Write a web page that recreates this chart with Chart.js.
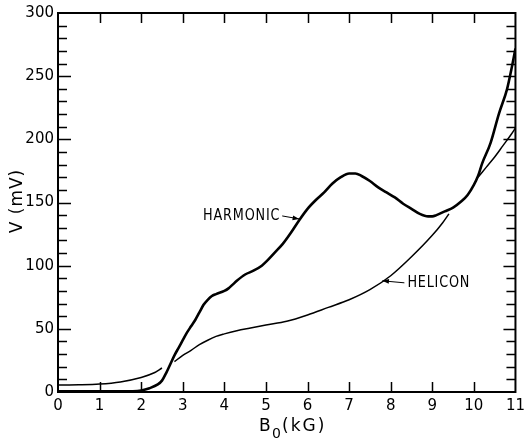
<!DOCTYPE html>
<html>
<head>
<meta charset="utf-8">
<script src="https://cdn.jsdelivr.net/npm/chart.js@4/dist/chart.umd.min.js"></script>
<style>
html,body{margin:0;padding:0;background:#fff;}
#wrap{width:530px;height:440px;}
</style>
</head>
<body>
<div id="wrap"><canvas id="c" width="530" height="440"></canvas></div>
<script>
// ---- data (B0 in kG, V in mV) ----
const harmonicB = [0,0.5,1.0,1.5,1.8,2.0,2.2,2.4,2.5,2.6,2.7,2.8,2.9,3.0,3.1,3.2,3.3,3.4,3.5,3.6,3.7,3.8,4.0,4.1,4.2,4.3,4.5,4.7,4.9,5.0,5.2,5.4,5.6,5.8,6.0,6.2,6.4,6.6,6.8,7.0,7.15,7.3,7.5,7.7,7.9,8.1,8.3,8.5,8.7,8.9,9.0,9.1,9.3,9.5,9.7,9.85,10.0,10.1,10.2,10.4,10.6,10.8,10.9,11.0];
const harmonicV = [0.5,0.5,0.5,0.5,0.6,1.2,3,6,9,15,22,29,35,41,47,52,57,63,69,73,76,77.5,80,82,85,88,93,96,100,103,110,117,126,136,145,152,158,165,170,173,173,171,167,162,158,154,149,145,141,139,139,140,143,146,151,156,164,171,181,197,220,240,255,272];
// helicon: three separate traced segments (null = break)
const heliconB = [0,0.5,1.0,1.5,2.0,2.3,2.5, 2.65, 2.8,3.0,3.2,3.4,3.6,3.8,4.0,4.3,4.6,5.0,5.5,6.0,6.5,7.0,7.5,8.0,8.5,9.0,9.25,9.4, 9.8, 10.1,10.3,10.5,10.7,10.9,11.0];
const heliconV = [5.5,5.7,6.3,8,11.5,15,19, null, 24,29,33,37.5,41,44,46,48.5,50.5,53,56,61,67,73,81,92,107,124,134,141, null, 170,178,186,195,204,209];
const xTicks = [0,1,2,3,4,5,6,7,8,9,10,11];
const yTicks = [0,50,100,150,200,250,300];
const labels = [
  {text:'HARMONIC', b:5.8, v:137, side:'left'},
  {text:'HELICON', b:7.8, v:88, side:'right'}
];

const toXY = (xs, ys) => xs.map((x,i)=>({x:x, y:ys[i]}));

const framePlugin = {
  id:'frame',
  afterDraw(chart){
    const ctx = chart.ctx, a = chart.chartArea;
    const xs = chart.scales.x, ys = chart.scales.y;
    ctx.save();
    ctx.strokeStyle = '#000';
    ctx.lineWidth = 2;
    ctx.strokeRect(a.left, a.top, a.right-a.left, a.bottom-a.top);
    ctx.lineWidth = 1.5;
    // y ticks left & right, every 10 mV
    for(let v=10; v<300; v+=10){
      const y = Math.round(ys.getPixelForValue(v))+0.5;
      const major = v%50===0;
      const L = major?13:9, R = major?12:9;
      ctx.beginPath();
      ctx.moveTo(a.left, y); ctx.lineTo(a.left+L, y);
      ctx.moveTo(a.right, y); ctx.lineTo(a.right-R, y);
      ctx.stroke();
    }
    // x ticks top & bottom
    for(let b=1; b<11; b++){
      const x = Math.round(xs.getPixelForValue(b))+0.5;
      ctx.beginPath();
      ctx.moveTo(x, a.top); ctx.lineTo(x, a.top+10);
      ctx.moveTo(x, a.bottom); ctx.lineTo(x, a.bottom-10);
      ctx.stroke();
    }
    // curve labels with arrows
    ctx.fillStyle = '#000';
    labels.forEach(l=>{
      const tx = xs.getPixelForValue(l.b), ty = ys.getPixelForValue(l.v);
      let sx, sy, textX;
      if(l.side==='left'){ sx = tx-17; sy = ty-3; textX = sx-2; }
      else { sx = tx+22; sy = ty+2; textX = sx+3; }
      ctx.save();
      ctx.font = '16px "DejaVu Sans", sans-serif';
      ctx.letterSpacing = '1px';
      ctx.textBaseline = 'middle';
      ctx.textAlign = l.side==='left' ? 'right' : 'left';
      ctx.translate(textX, sy);
      ctx.scale(0.8, 1);
      ctx.fillText(l.text, 0, 0);
      ctx.restore();
      ctx.lineWidth = 1;
      ctx.beginPath(); ctx.moveTo(sx, sy); ctx.lineTo(tx, ty); ctx.stroke();
      const ang = Math.atan2(ty-sy, tx-sx);
      ctx.beginPath();
      ctx.moveTo(tx, ty);
      ctx.lineTo(tx-7*Math.cos(ang-0.35), ty-7*Math.sin(ang-0.35));
      ctx.lineTo(tx-7*Math.cos(ang+0.35), ty-7*Math.sin(ang+0.35));
      ctx.closePath(); ctx.fill();
    });
    // axis titles
    ctx.textAlign = 'left';
    ctx.textBaseline = 'alphabetic';
    ctx.font = '17px "DejaVu Sans", sans-serif';
    ctx.letterSpacing = '1px';
    ctx.fillText('B', 259, 431);
    ctx.font = '14px "DejaVu Sans", sans-serif';
    ctx.fillText('0', 272, 438);
    ctx.font = '17px "DejaVu Sans", sans-serif';
    ctx.letterSpacing = '2px';
    ctx.fillText('(kG)', 282, 431);
    ctx.save();
    ctx.translate(22, 201);
    ctx.rotate(-Math.PI/2);
    ctx.textAlign = 'center';
    ctx.letterSpacing = '1px';
    ctx.font = '17px "DejaVu Sans", sans-serif';
    ctx.fillText('V (mV)', 0, 0);
    ctx.restore();
    ctx.restore();
  }
};

new Chart(document.getElementById('c'), {
  type:'line',
  data:{
    datasets:[
      {label:'Harmonic', data:toXY(harmonicB, harmonicV), borderColor:'#000', borderWidth:2.6, pointRadius:0, fill:false, cubicInterpolationMode:'monotone', spanGaps:false},
      {label:'Helicon', data:toXY(heliconB, heliconV), borderColor:'#000', borderWidth:1.5, pointRadius:0, fill:false, cubicInterpolationMode:'monotone', spanGaps:false}
    ]
  },
  options:{
    responsive:false,
    animation:false,
    events:[],
    layout:{padding:{top:11, right:3, left:0, bottom:0}},
    plugins:{legend:{display:false}, tooltip:{enabled:false}},
    scales:{
      x:{
        type:'linear', min:0, max:11,
        afterBuildTicks(s){ s.ticks = xTicks.map(v=>({value:v})); },
        afterFit(s){ s.height = 48; },
        grid:{display:false, drawTicks:false},
        border:{display:false},
        ticks:{color:'#000', padding:5, maxRotation:0, autoSkip:false, font:{family:'"DejaVu Sans", sans-serif', size:15}}
      },
      y:{
        type:'linear', min:0, max:300,
        afterBuildTicks(s){ s.ticks = yTicks.map(v=>({value:v})); },
        afterFit(s){ s.width = 58; },
        grid:{display:false, drawTicks:false},
        border:{display:false},
        ticks:{color:'#000', padding:4, font:{family:'"DejaVu Sans", sans-serif', size:15}}
      }
    }
  },
  plugins:[framePlugin]
});
</script>
</body>
</html>
